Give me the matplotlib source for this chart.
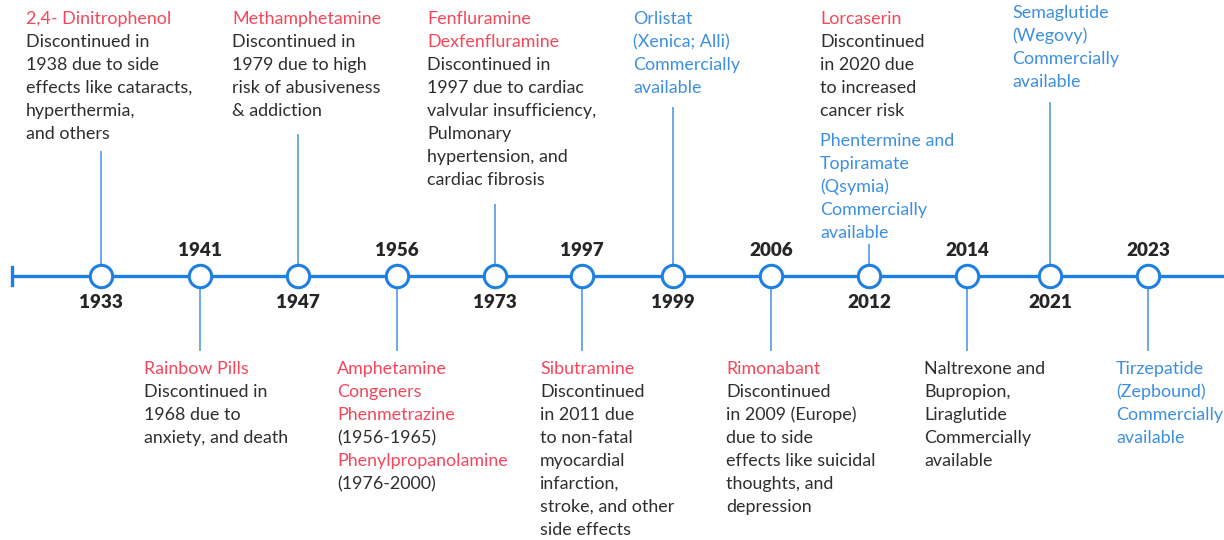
import matplotlib
matplotlib.use("Agg")
import matplotlib.pyplot as plt

plt.rcParams['font.family'] = ['Lato', 'DejaVu Sans']

# ---- data ----
years = [1933, 1941, 1947, 1956, 1973, 1997, 1999, 2006, 2012, 2014, 2021, 2023]
sides = ['up', 'down', 'up', 'down', 'up', 'down', 'up', 'down', 'up', 'down', 'up', 'down']

# each event: list of (line text, style)  r = discontinued drug, k = note, b = available drug
events = {
    1933: [("2,4- Dinitrophenol", 'r'), ("Discontinued in", 'k'), ("1938 due to side", 'k'),
           ("effects like cataracts,", 'k'), ("hyperthermia,", 'k'), ("and others", 'k')],
    1941: [("Rainbow Pills", 'r'), ("Discontinued in", 'k'), ("1968 due to", 'k'),
           ("anxiety, and death", 'k')],
    1947: [("Methamphetamine", 'r'), ("Discontinued in", 'k'), ("1979 due to high", 'k'),
           ("risk of abusiveness", 'k'), ("& addiction", 'k')],
    1956: [("Amphetamine", 'r'), ("Congeners", 'r'), ("Phenmetrazine", 'r'), ("(1956-1965)", 'k'),
           ("Phenylpropanolamine", 'r'), ("(1976-2000)", 'k')],
    1973: [("Fenfluramine", 'r'), ("Dexfenfluramine", 'r'), ("Discontinued in", 'k'),
           ("1997 due to cardiac", 'k'), ("valvular insufficiency,", 'k'), ("Pulmonary", 'k'),
           ("hypertension, and", 'k'), ("cardiac fibrosis", 'k')],
    1997: [("Sibutramine", 'r'), ("Discontinued", 'k'), ("in 2011 due", 'k'), ("to non-fatal", 'k'),
           ("myocardial", 'k'), ("infarction,", 'k'), ("stroke, and other", 'k'), ("side effects", 'k')],
    1999: [("Orlistat", 'b'), ("(Xenica; Alli)", 'b'), ("Commercially", 'b'), ("available", 'b')],
    2006: [("Rimonabant", 'r'), ("Discontinued", 'k'), ("in 2009 (Europe)", 'k'), ("due to side", 'k'),
           ("effects like suicidal", 'k'), ("thoughts, and", 'k'), ("depression", 'k')],
    2012: [("Lorcaserin", 'r'), ("Discontinued", 'k'), ("in 2020 due", 'k'), ("to increased", 'k'),
           ("cancer risk", 'k')],
    2014: [("Naltrexone and", 'k'), ("Bupropion,", 'k'), ("Liraglutide", 'k'), ("Commercially", 'k'),
           ("available", 'k')],
    2021: [("Semaglutide", 'b'), ("(Wegovy)", 'b'), ("Commercially", 'b'), ("available", 'b')],
    2023: [("Tirzepatide", 'b'), ("(Zepbound)", 'b'), ("Commercially", 'b'), ("available", 'b')],
}
# second block attached to 2012
extra_2012 = [("Phentermine and", 'b'), ("Topiramate", 'b'), ("(Qsymia)", 'b'),
              ("Commercially", 'b'), ("available", 'b')]

# ---- layout (pixels) ----
node_x = [101, 200, 298, 397, 495, 582, 673, 771, 869, 967, 1050, 1148]
text_x = {1933: 26, 1941: 144, 1947: 232, 1956: 337, 1973: 427, 1997: 540, 1999: 633,
          2006: 726, 2012: 820, 2014: 924, 2021: 1012, 2023: 1116}
text_y0 = {1933: 19, 1947: 19, 1973: 19, 1999: 19, 2012: 19, 2021: 13}
stem_top = {1933: 152, 1947: 135, 1973: 205, 1999: 108, 2012: 245, 2021: 103}
below_y0 = 369
stem_bottom = 350
line_h = 23
axis_y = 276

colors = {'r': '#F5475B', 'k': '#2E2E2E', 'b': '#3D8FE0'}
line_c = '#1F80E3'
stem_c = '#6AA9E6'

fig = plt.figure(figsize=(12.24, 5.40), dpi=100)
ax = fig.add_axes([0, 0, 1, 1])
ax.set_xlim(0, 1224)
ax.set_ylim(540, 0)
ax.axis('off')

# main line and left cap
ax.plot([12, 1224], [axis_y, axis_y], color=line_c, lw=2.4, zorder=2, solid_capstyle='butt')
ax.plot([12, 12], [axis_y - 9, axis_y + 9], color=line_c, lw=2.4, zorder=2)

fs = 12.9
yfs = 13.6
for yr, side, x in zip(years, sides, node_x):
    if side == 'up':
        ax.plot([x, x], [stem_top[yr], axis_y], color=stem_c, lw=1.4, zorder=1)
        ax.text(x, axis_y + 27, str(yr), ha='center', va='center', fontsize=yfs,
                fontweight='heavy', color='#262626')
        y0 = text_y0[yr]
    else:
        ax.plot([x, x], [axis_y, stem_bottom], color=stem_c, lw=1.4, zorder=1)
        ax.text(x, axis_y - 26, str(yr), ha='center', va='center', fontsize=yfs,
                fontweight='heavy', color='#262626')
        y0 = below_y0
    ax.scatter([x], [axis_y], s=260, facecolor='white', edgecolor=line_c, linewidths=2.2, zorder=3)
    for i, (t, st) in enumerate(events[yr]):
        ax.text(text_x[yr], y0 + i * line_h, t, ha='left', va='center', fontsize=fs,
                color=colors[st])
    if yr == 2012:
        for i, (t, st) in enumerate(extra_2012):
            ax.text(text_x[yr], 141 + i * line_h, t, ha='left', va='center', fontsize=fs,
                    color=colors[st])

fig.savefig('out.png', dpi=100)
